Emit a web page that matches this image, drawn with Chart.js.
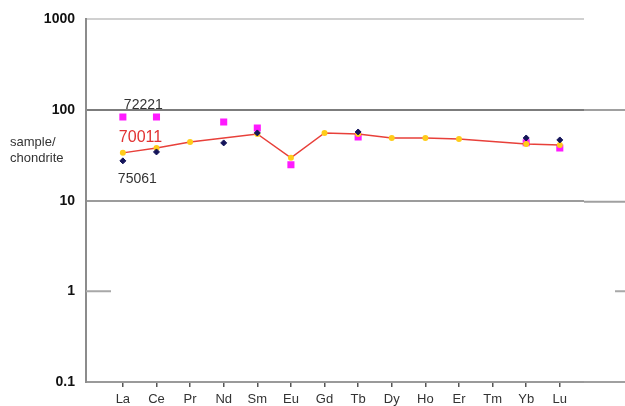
<!DOCTYPE html>
<html>
<head>
<meta charset="utf-8">
<script src="https://cdn.jsdelivr.net/npm/chart.js@4/dist/chart.umd.min.js"></script>
<style>
  html, body { margin: 0; padding: 0; background: #fff; }
  canvas { display: block; }
</style>
</head>
<body>
<canvas id="reeChart" width="625" height="406"></canvas>
<script>
// REE pattern, chondrite normalised
const elements = ['La', 'Ce', 'Pr', 'Nd', 'Sm', 'Eu', 'Gd', 'Tb', 'Dy', 'Ho', 'Er', 'Tm', 'Yb', 'Lu'];
const yTicks = [0.1, 1, 10, 100, 1000];
const s70011 = [33.7, 38.2, 44.5, null, 54.5, 29.7, 55.9, 54.5, 49.2, 49.2, 48.0, null, 42.3, 41.2];
const s75061 = [27.5, 34.5, null, 43.4, 55.9, null, null, 57.3, null, null, null, null, 49.2, 46.8];
const s72221 = [83.8, 83.8, null, 73.8, 63.4, 24.9, null, 50.5, null, null, null, null, 43.5, 38.2];

const toPoints = arr => arr.map((v, i) => ({ x: i, y: v }));

// text labels and the odd line stubs of the original picture
const decorations = {
    id: 'decorations',
    afterDraw(chart) {
        const { ctx, chartArea, scales } = chart;
        const xs = scales.x, ys = scales.y;
        ctx.save();
        // grid stubs right of the plot area
        ctx.lineWidth = 2;
        ctx.strokeStyle = '#a0a0a0';
        [[100, 0], [10, 1], [0.1, 0]].forEach(([v, dy]) => {
            const y = ys.getPixelForValue(v) + dy;
            ctx.beginPath();
            ctx.moveTo(chartArea.right, y);
            ctx.lineTo(chart.width, y);
            ctx.stroke();
        });
        const y1 = ys.getPixelForValue(1);
        ctx.strokeStyle = '#a8a8a8';
        ctx.beginPath();
        ctx.moveTo(chartArea.left, y1);
        ctx.lineTo(chartArea.left + 25, y1);
        ctx.moveTo(chart.width - 10, y1);
        ctx.lineTo(chart.width, y1);
        ctx.stroke();

        // axis caption
        ctx.fillStyle = '#333';
        ctx.font = '13px "Liberation Sans", Arial, sans-serif';
        ctx.textBaseline = 'middle';
        ctx.textAlign = 'left';
        ctx.fillText('sample/', 10, 142);
        ctx.fillText('chondrite', 10, 158);

        // sample names
        const xLa = xs.getPixelForValue(0);
        ctx.font = '14px "Liberation Sans", Arial, sans-serif';
        ctx.fillStyle = '#333';
        ctx.fillText('72221', xLa + 1, ys.getPixelForValue(113));
        ctx.fillText('75061', xLa - 5, ys.getPixelForValue(17.5));
        ctx.font = '16px "Liberation Sans", Arial, sans-serif';
        ctx.fillStyle = '#e23232';
        ctx.fillText('70011', xLa - 4, ys.getPixelForValue(49.2));
        ctx.restore();
    }
};

const gridColor = ctx => {
    const v = ctx.tick && ctx.tick.value;
    if (v === 1000) return '#d0d0d0';
    if (v === 100) return '#7c7c7c';
    if (v === 10) return '#9c9c9c';
    return 'rgba(0,0,0,0)';
};

new Chart(document.getElementById('reeChart'), {
    type: 'line',
    data: {
        datasets: [
            {
                label: '75061',
                data: toPoints(s75061),
                showLine: false,
                pointStyle: 'rectRot',
                pointRadius: 3,
                pointBackgroundColor: '#14145a',
                pointBorderColor: '#14145a',
                pointBorderWidth: 1
            },
            {
                label: '70011',
                data: toPoints(s70011),
                spanGaps: true,
                borderColor: '#e8403a',
                borderWidth: 1.5,
                pointStyle: 'circle',
                pointRadius: 3,
                pointBackgroundColor: '#ffcc1a',
                pointBorderColor: '#ffcc1a',
                pointBorderWidth: 0
            },
            {
                label: '72221',
                data: toPoints(s72221),
                showLine: false,
                pointStyle: 'rect',
                pointRadius: 5,
                pointBackgroundColor: '#ff1aff',
                pointBorderColor: '#ff1aff',
                pointBorderWidth: 0
            }
        ]
    },
    options: {
        responsive: false,
        animation: false,
        events: [],
        layout: { padding: { top: 18, right: 41, bottom: 0, left: 0 } },
        plugins: { legend: { display: false }, tooltip: { enabled: false } },
        scales: {
            x: {
                type: 'linear',
                min: -1.097,
                max: 13.72,
                afterBuildTicks: scale => { scale.ticks = elements.map((_, i) => ({ value: i })); },
                afterFit: scale => { scale.height = 24; },
                ticks: {
                    autoSkip: false,
                    maxRotation: 0,
                    padding: 5,
                    color: '#333',
                    font: { family: '"Liberation Sans", Arial, sans-serif', size: 13 },
                    callback: v => elements[v] ?? ''
                },
                grid: { drawOnChartArea: false, drawTicks: true, tickLength: 5, color: '#555', lineWidth: 1.5 },
                border: { display: true, color: '#9a9a9a', width: 2 }
            },
            y: {
                type: 'logarithmic',
                min: 0.1,
                max: 1000,
                afterBuildTicks: scale => { scale.ticks = yTicks.map(v => ({ value: v })); },
                afterFit: scale => { scale.width = 86; },
                ticks: {
                    padding: 11,
                    color: '#111',
                    font: { family: '"Liberation Sans", Arial, sans-serif', size: 14, weight: 'bold' },
                    callback: v => String(v)
                },
                grid: { drawTicks: false, color: gridColor, lineWidth: 2 },
                border: { display: true, color: '#8c8c8c', width: 2 }
            }
        }
    },
    plugins: [decorations]
});
</script>
</body>
</html>
